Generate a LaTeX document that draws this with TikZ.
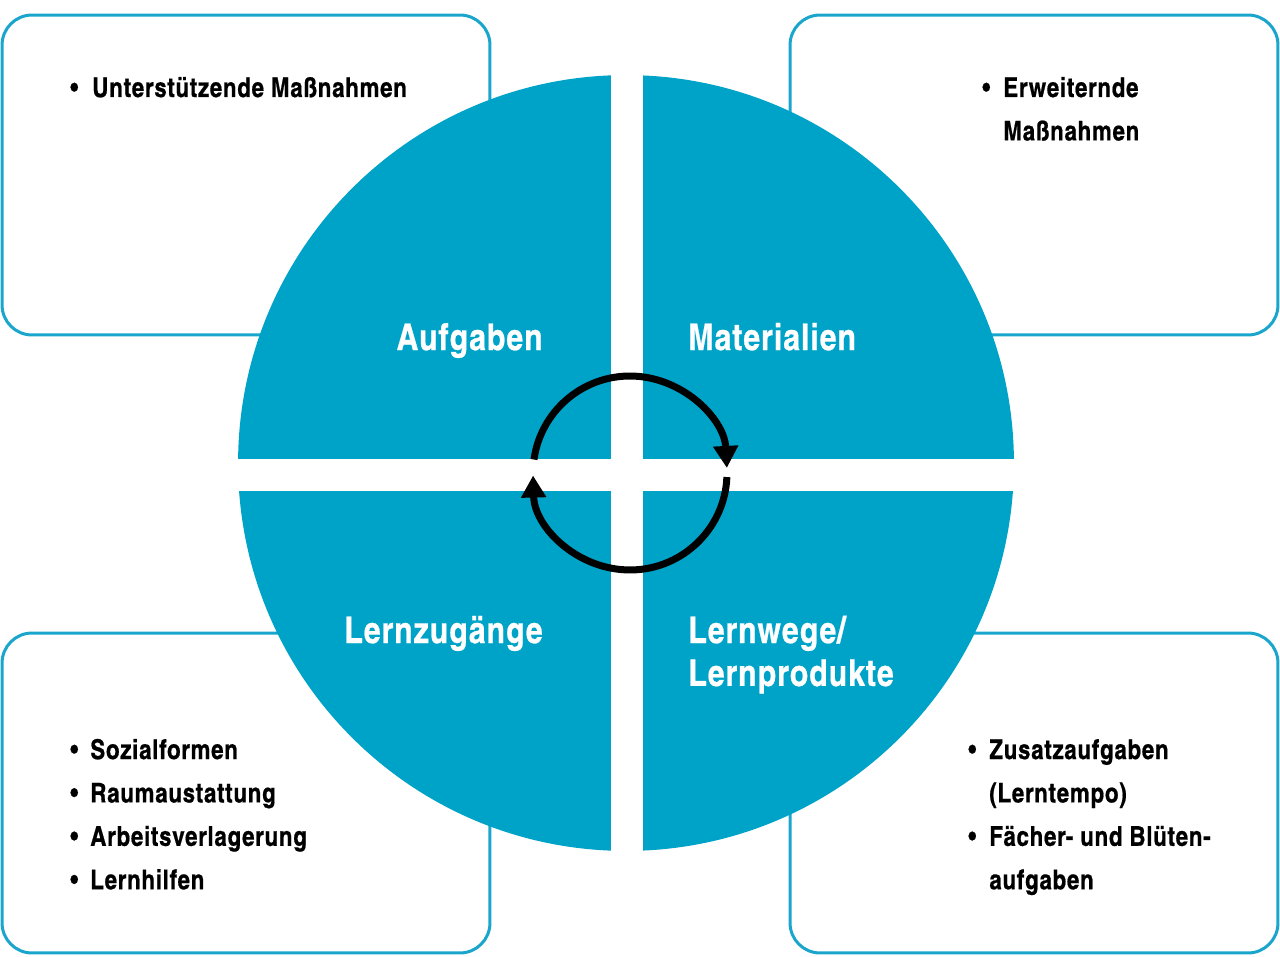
\documentclass[tikz,border=0pt]{standalone}
\usepackage{fontspec}
\setmainfont{TeX Gyre Heros Cn}[BoldFeatures={FakeBold=0.6,LetterSpace=2.6}]
\usepackage{xcolor}
\usepackage{tikz}
\usetikzlibrary{arrows.meta}
\definecolor{kreisblau}{HTML}{00A3C8}
\definecolor{rahmenblau}{HTML}{1AA6CC}

\begin{document}
\begin{tikzpicture}[
  x=0.02cm, y=-0.02cm,
  kasten/.style={draw=rahmenblau, line width=0.06cm, rounded corners=0.6cm, fill=white,
                 minimum width=9.76cm, minimum height=6.4cm},
  feld/.style={font=\fontsize{21}{24.4}\selectfont\bfseries, text=white, inner sep=0pt},
  liste/.style={font=\fontsize{15.5}{24.7}\selectfont\bfseries, inner sep=0pt, anchor=base west},
  kreislauf/.style={-{Triangle[width=0.48cm,length=0.44cm]}, line width=0.14cm}
]
  \useasboundingbox (0,0) rectangle (1280,956);

  \node[kasten] (k1) at (246,175) {};
  \node[kasten] (k2) at (1034,175) {};
  \node[kasten] (k3) at (246,793) {};
  \node[kasten] (k4) at (1034,793) {};

  \fill[kreisblau] (626,463) circle[radius=7.76cm];
  \fill[white] (611,60) rectangle (643,870);
  \fill[white] (220,459) rectangle (1030,491);

  \node[feld, anchor=base east] (aufg) at (543,350) {Aufgaben};
  \node[feld, anchor=base west] (mat) at (688,350) {Materialien};
  \node[feld, anchor=base east] (zug) at (543,643) {Lernzugänge};
  \node[feld, anchor=base west] (wege) at (688,643)
    {\begin{tabular}[t]{@{}l@{}}Lernwege/\\Lernprodukte\end{tabular}};

  \coordinate (mitte) at (630,473);
  \draw[kreislauf] ([shift={(172:1.94cm)}]mitte) arc[start angle=172, end angle=3, radius=1.94cm];
  \draw[kreislauf] ([shift={(-2.4:1.94cm)}]mitte) arc[start angle=-2.4, end angle=-178.5, radius=1.94cm];

  \node[liste] (l1) at (70,97)
    {\begin{tabular}[t]{@{}p{0.44cm}@{}l@{}}\textbullet & Unterstützende Maßnahmen\end{tabular}};
  \node[liste] (l2) at (982,97)
    {\begin{tabular}[t]{@{}p{0.42cm}@{}l@{}}\textbullet & Erweiternde\\ & Maßnahmen\end{tabular}};
  \node[liste] (l3) at (70,759)
    {\begin{tabular}[t]{@{}p{0.40cm}@{}l@{}}\textbullet & Sozialformen\\ \textbullet & Raumaustattung\\
      \textbullet & Arbeitsverlagerung\\ \textbullet & Lernhilfen\end{tabular}};
  \node[liste] (l4) at (968,759)
    {\begin{tabular}[t]{@{}p{0.42cm}@{}l@{}}\textbullet & Zusatzaufgaben\\ & (Lerntempo)\\
      \textbullet & Fächer- und Blüten-\\ & aufgaben\end{tabular}};
\end{tikzpicture}
\end{document}
